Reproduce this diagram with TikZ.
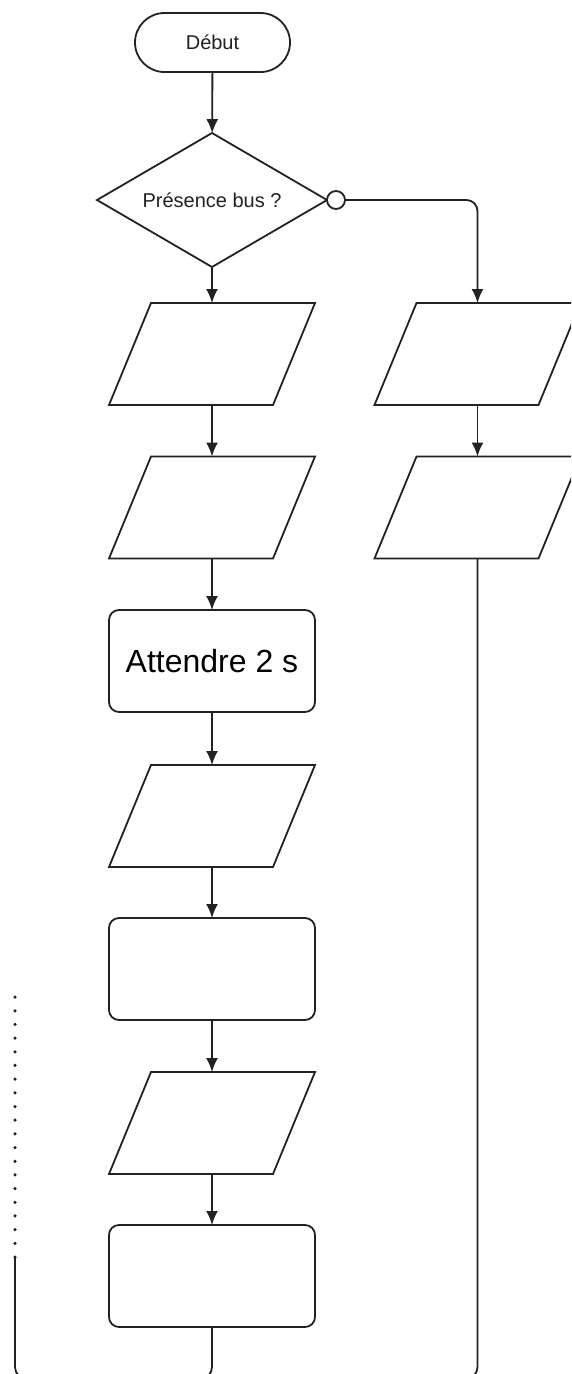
\documentclass[tikz,border=0pt]{standalone}
\usepackage{fontspec}
\setmainfont{Liberation Sans}
\usetikzlibrary{shapes.geometric,arrows.meta}
\definecolor{ink}{HTML}{222222}
\begin{document}
\begin{tikzpicture}[x=1pt,y=-1pt,
  line/.style={draw=ink,line width=1.8pt},
  arr/.style={color=ink,line width=1.8pt,-{Latex[length=14pt,width=12pt]}},
  base/.style={inner sep=0pt,outer sep=0pt},
  term/.style={base,line,rectangle,rounded corners=29.5pt,minimum width=155pt,minimum height=59pt,text=ink,font=\fontsize{20}{24}\selectfont},
  decis/.style={base,line,diamond,aspect=1.716,minimum width=230pt,minimum height=134pt,text=ink,font=\fontsize{20}{24}\selectfont},
  paral/.style={base,rectangle,minimum width=206pt,minimum height=102pt},
  waitbox/.style={base,line,rectangle,rounded corners=10pt,minimum width=206pt,minimum height=102pt,text=black,font=\fontsize{32}{38}\selectfont},
  ring/.style={base,line,circle,minimum size=18pt,fill=white},
  dots/.style={draw=ink,line width=3.5pt,line cap=round,dash pattern=on 0pt off 13.68pt}
]
\useasboundingbox (0,0) rectangle (571,1374);
\clip (0,0) rectangle (571,1374);
\fill[white] (0,0) rectangle (571,1374);

\node[term]  (deb) at (212.5,42.5) {Début};
\node[decis] (dec) at (212,200) {Présence bus ?};
\node[ring]  (c)   at (336,200) {};
\node[paral] (p1) at (212,354) {};
\node[paral] (p2) at (212,507.5) {};
\node[waitbox] (w1) at (212,661) {Attendre 2 s};
\node[paral] (p3) at (212,816) {};
\node[waitbox] (w2) at (212,969) {};
\node[paral] (p4) at (212,1123) {};
\node[waitbox] (w3) at (212,1276) {};
\node[paral] (r1) at (477.5,354) {};
\node[paral] (r2) at (477.5,507.5) {};

\foreach \n in {p1,p2,p3,p4,r1,r2}{
  \draw[line,line join=miter] ([xshift=42pt]\n.north west) -- (\n.north east) -- ([xshift=-42pt]\n.south east) -- (\n.south west) -- cycle;
}

\coordinate (dotTop) at (15,997);
\coordinate (loopL) at (15,1257);
\coordinate (botL) at (15,1379);
\coordinate (botM) at (212,1379);

\draw[arr] (deb) -- (dec);
\draw[arr] (dec) -- (p1);
\draw[arr] (p1) -- (p2);
\draw[arr] (p2) -- (w1);
\draw[arr] (w1) -- (p3);
\draw[arr] (p3) -- (w2);
\draw[arr] (w2) -- (p4);
\draw[arr] (p4) -- (w3);
\draw[arr,rounded corners=11pt] (c.east) -| (r1.north);
\draw[arr] (r1) -- (r2);
\draw[line,rounded corners=12pt] (w3.south) |- (botL) -- (loopL);
\draw[line,rounded corners=12pt] (r2.south) |- (botM);
\draw[dots] (loopL) -- (dotTop);
\end{tikzpicture}
\end{document}
